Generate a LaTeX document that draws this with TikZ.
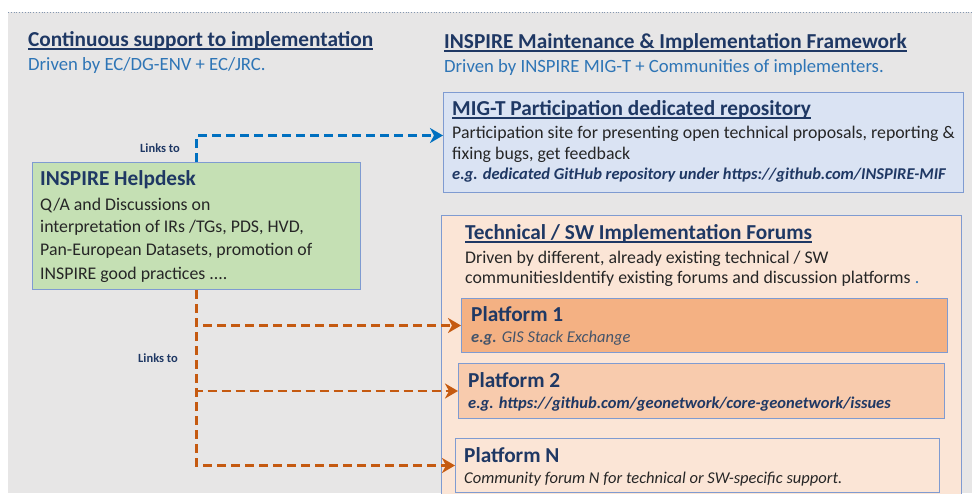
\documentclass[tikz,border=0pt]{standalone}
\usepackage{fontspec}
\setmainfont{Carlito}
\usetikzlibrary{arrows.meta}
\definecolor{bggray}{HTML}{E7E6E6}
\definecolor{navy}{HTML}{1F3864}
\definecolor{subblue}{HTML}{2E75B6}
\definecolor{bodytxt}{HTML}{262626}
\definecolor{slate}{HTML}{44546A}
\definecolor{boxline}{HTML}{7F9BD1}
\definecolor{greenfill}{HTML}{C5E0B4}
\definecolor{bluefill}{HTML}{DAE3F3}
\definecolor{peach}{HTML}{FBE5D6}
\definecolor{orange1}{HTML}{F4B183}
\definecolor{orange2}{HTML}{F8CBAD}
\definecolor{arroworange}{HTML}{C55A11}
\definecolor{arrowblue}{HTML}{0070C0}
\definecolor{dotline}{HTML}{8497B0}
\tikzset{
  boxnode/.style={draw=boxline, line width=1pt, inner sep=0pt, anchor=north west},
  txt/.style={anchor=base west, inner sep=0pt, text=bodytxt, font=\fontsize{17.8}{21}\selectfont},
  bigtitle/.style={txt, text=navy, font=\bfseries\fontsize{21.3}{25}\selectfont},
  subtitle/.style={txt, text=subblue, font=\fontsize{18.7}{22}\selectfont},
  boxtitle/.style={txt, text=navy, font=\bfseries\fontsize{21.3}{25}\selectfont},
  subline/.style={txt, font=\itshape\fontsize{16.5}{20}\selectfont},
  linklabel/.style={txt, text=navy, font=\bfseries\fontsize{12.5}{14}\selectfont},
  uline/.style={draw=navy, line width=1.3pt},
  dashlink/.style={line width=2.6pt, dash pattern=on 9pt off 5pt},
  orangelink/.style={dashlink, draw=arroworange,
     -{Stealth[length=13pt,width=15pt,inset=4pt,fill=arroworange]}},
  bluelink/.style={dashlink, draw=arrowblue,
     -{Stealth[length=13pt,width=15pt,inset=4pt,fill=arrowblue]}},
}
\begin{document}
\begin{tikzpicture}[x=1pt,y=-1pt]
\useasboundingbox (0,0) rectangle (972,493);
\clip (0,0) rectangle (972,493);
% background
\fill[bggray] (8,12) rectangle (972,493);
\draw[dotline, line width=0.8pt, dotted] (8,12) -- (972,12);

% headings
\node[bigtitle] (t1) at (28,46) {Continuous support to implementation};
\draw[uline] ([yshift=-3pt]t1.base west) -- ([yshift=-3pt]t1.base east);
\node[subtitle] (s1) at (28,70) {Driven by EC/DG-ENV + EC/JRC.};
\node[bigtitle] (t2) at (444,48) {INSPIRE Maintenance \& Implementation Framework};
\draw[uline] ([yshift=-3pt]t2.base west) -- ([yshift=-3pt]t2.base east);
\node[subtitle] (s2) at (444,72) {Driven by INSPIRE MIG-T + Communities of implementers.};

% boxes
\node[boxnode, fill=greenfill, minimum width=328pt, minimum height=127pt] (helpdesk) at (32,162) {};
\node[boxnode, fill=bluefill, minimum width=520pt, minimum height=100pt] (mig) at (443,92) {};
\node[boxnode, fill=peach, minimum width=520pt, minimum height=300pt] (tech) at (441,215) {};
\node[boxnode, fill=orange1, minimum width=486pt, minimum height=54pt] (p1) at (461,298) {};
\node[boxnode, fill=orange2, minimum width=486pt, minimum height=55pt] (p2) at (458,363) {};
\node[boxnode, fill=peach, minimum width=484pt, minimum height=54pt] (pN) at (455,438) {};

% helpdesk text
\node[boxtitle] (hdt) at (40,185) {INSPIRE Helpdesk};
\node[txt] (hd1) at (40,210) {Q/A and Discussions on};
\node[txt] (hd2) at (40,232) {interpretation of IRs /TGs, PDS, HVD,};
\node[txt] (hd3) at (40,255) {Pan-European Datasets, promotion of};
\node[txt] (hd4) at (40,279) {INSPIRE good practices ....};

% MIG-T text
\node[boxtitle] (mt) at (452,115) {MIG-T Participation dedicated repository};
\draw[uline] ([yshift=-3pt]mt.base west) -- ([yshift=-3pt]mt.base east);
\node[txt] (m1) at (452,138) {Participation site for presenting open technical proposals, reporting \&};
\node[txt] (m2) at (452,159) {fixing bugs, get feedback};
\node[subline, text=navy, font=\bfseries\itshape\fontsize{16.5}{20}\selectfont] (m3) at (452,179) {e.g. dedicated GitHub repository under https://github.com/INSPIRE-MIF};

% Tech forum text
\node[boxtitle] (tt) at (465,239) {Technical / SW Implementation Forums};
\draw[uline] ([yshift=-3pt]tt.base west) -- ([yshift=-3pt]tt.base east);
\node[txt] (tb1) at (465,263) {Driven by different, already existing technical / SW};
\node[txt] (tb2) at (465,283) {communitiesIdentify existing forums and discussion platforms \textcolor{subblue}{.}};

% platforms
\node[boxtitle] (p1t) at (471,321) {Platform 1};
\node[subline, text=slate] (p1s) at (471,342) {\textbf{e.g.} GIS Stack Exchange};
\node[boxtitle] (p2t) at (468,387) {Platform 2};
\node[subline, text=navy, font=\bfseries\itshape\fontsize{16.5}{20}\selectfont] (p2s) at (468,408) {e.g. https://github.com/geonetwork/core-geonetwork/issues};
\node[boxtitle] (pNt) at (464,462) {Platform N};
\node[subline] (pNs) at (464,483) {Community forum N for technical or SW-specific support.};

% connectors
\coordinate (migin) at ([yshift=7pt]mig.west);
\draw[bluelink] (helpdesk.north) |- (migin);
\draw[orangelink] (helpdesk.south) |- (p1.west);
\draw[orangelink] (helpdesk.south) |- (p2.west);
\draw[orangelink] (helpdesk.south) |- (pN.west);

% labels
\node[linklabel] (l1) at (140,152) {Links to};
\node[linklabel] (l2) at (138,362) {Links to};
\end{tikzpicture}
\end{document}
